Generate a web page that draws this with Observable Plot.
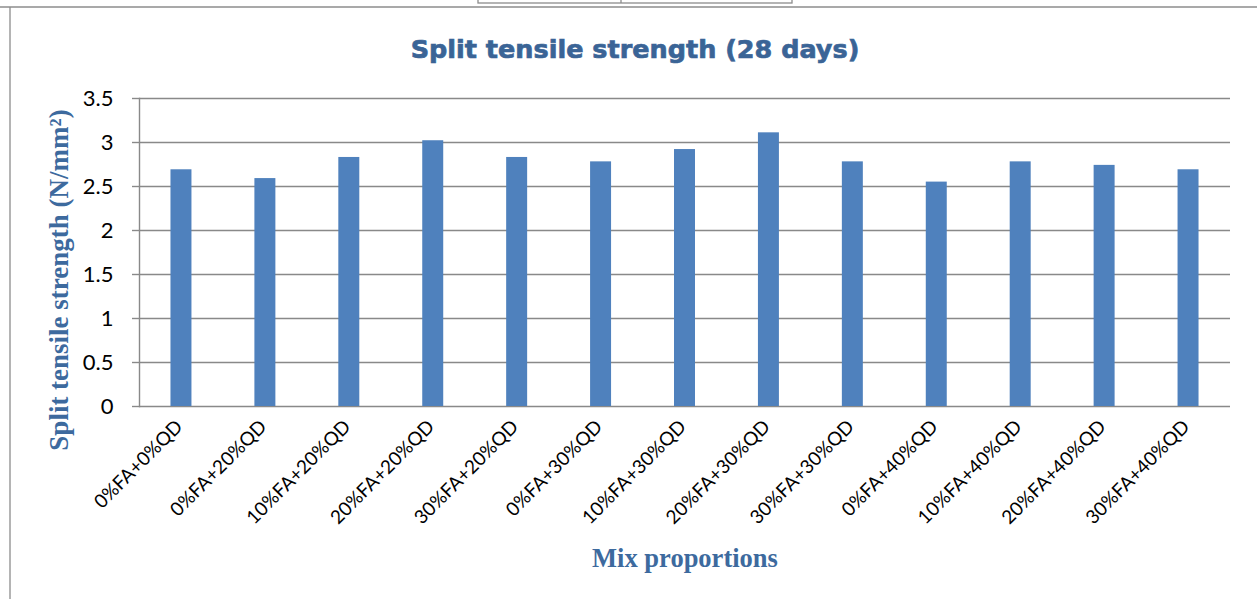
<!DOCTYPE html>
<html><head><meta charset="utf-8">
<script src="https://cdn.jsdelivr.net/npm/d3@7"></script>
<script src="https://cdn.jsdelivr.net/npm/@observablehq/plot@0.6"></script>
<style>
html,body{margin:0;padding:0;background:#fff;}
#chart{position:relative;width:1257px;height:599px;}
</style>
</head><body><div id="chart"></div>
<script>
const categories = ["0%FA+0%QD","0%FA+20%QD","10%FA+20%QD","20%FA+20%QD","30%FA+20%QD","0%FA+30%QD","10%FA+30%QD","20%FA+30%QD","30%FA+30%QD","0%FA+40%QD","10%FA+40%QD","20%FA+40%QD","30%FA+40%QD"];
const values = [2.69, 2.59, 2.83, 3.02, 2.83, 2.78, 2.92, 3.11, 2.78, 2.55, 2.78, 2.74, 2.69];
const yTicks = [0, 0.5, 1, 1.5, 2, 2.5, 3, 3.5];
const yTickLabels = ["0","0.5","1","1.5","2","2.5","3","3.5"];
const title = "Split tensile strength (28 days)";
const yTitle = "Split tensile strength (N/mm²)";
const xTitle = "Mix proportions";

const data = categories.map((c, i) => ({cat: c, v: values[i]}));
const grid = "#898989";

const svg = Plot.plot({
  width: 1257,
  height: 599,
  marginLeft: 139,
  marginRight: 27,
  marginTop: 98,
  marginBottom: 193,
  style: {background: "#fff", overflow: "visible"},
  x: {type: "band", domain: categories, paddingInner: 0.75, paddingOuter: 0.375, round: false, label: null},
  y: {domain: [0, 3.5], label: null},
  marks: [
    Plot.ruleY(yTicks, {stroke: grid, strokeWidth: 1.4}),
    Plot.axisY({ticks: yTicks, tickFormat: (d) => yTickLabels[yTicks.indexOf(d)], tickSize: 7, tickPadding: 19, stroke: grid, strokeWidth: 1.4, fontSize: 22, fontFamily: "Lato", fill: "#000", label: null}),
    Plot.frame({anchor: "left", stroke: grid, strokeWidth: 1.4}),
    Plot.barY(data, {x: "cat", y: "v", fill: "#4F81BD"}),
    Plot.axisX({tickSize: 0, tickPadding: 17, tickRotate: -45, fontSize: 19, fontFamily: "Lato", fill: "#000", dx: -2, label: null})
  ]
});

const s = d3.select(svg);
// titles
s.append("text").attr("x", 635).attr("y", 58).attr("text-anchor", "middle")
  .attr("font-family", "DejaVu Sans").attr("font-weight", 900).attr("font-size", 25.5)
  .attr("fill", "#3A6496").attr("stroke", "#3A6496").attr("stroke-width", 0.7).text(title);
s.append("text").attr("transform", "translate(68,280) rotate(-90)").attr("text-anchor", "middle")
  .attr("font-family", "Liberation Serif").attr("font-weight", "bold").attr("font-size", 27)
  .attr("fill", "#3D6A9E").text(yTitle);
s.append("text").attr("x", 685).attr("y", 567).attr("text-anchor", "middle")
  .attr("font-family", "Liberation Serif").attr("font-weight", "bold").attr("font-size", 26.5)
  .attr("fill", "#3D6A9E").text(xTitle);
// page frame decorations
const g = s.append("g").attr("stroke", "#8c8c8c").attr("fill", "none").attr("stroke-width", 1.3);
g.append("line").attr("x1", 0).attr("x2", 1257).attr("y1", 7).attr("y2", 7);
g.append("line").attr("x1", 10).attr("x2", 10).attr("y1", 7).attr("y2", 599);
g.append("rect").attr("x", 478).attr("y", -5).attr("width", 314).attr("height", 8);
g.append("line").attr("x1", 621).attr("x2", 621).attr("y1", 0).attr("y2", 3);

document.getElementById("chart").appendChild(svg);
</script>
</body></html>
